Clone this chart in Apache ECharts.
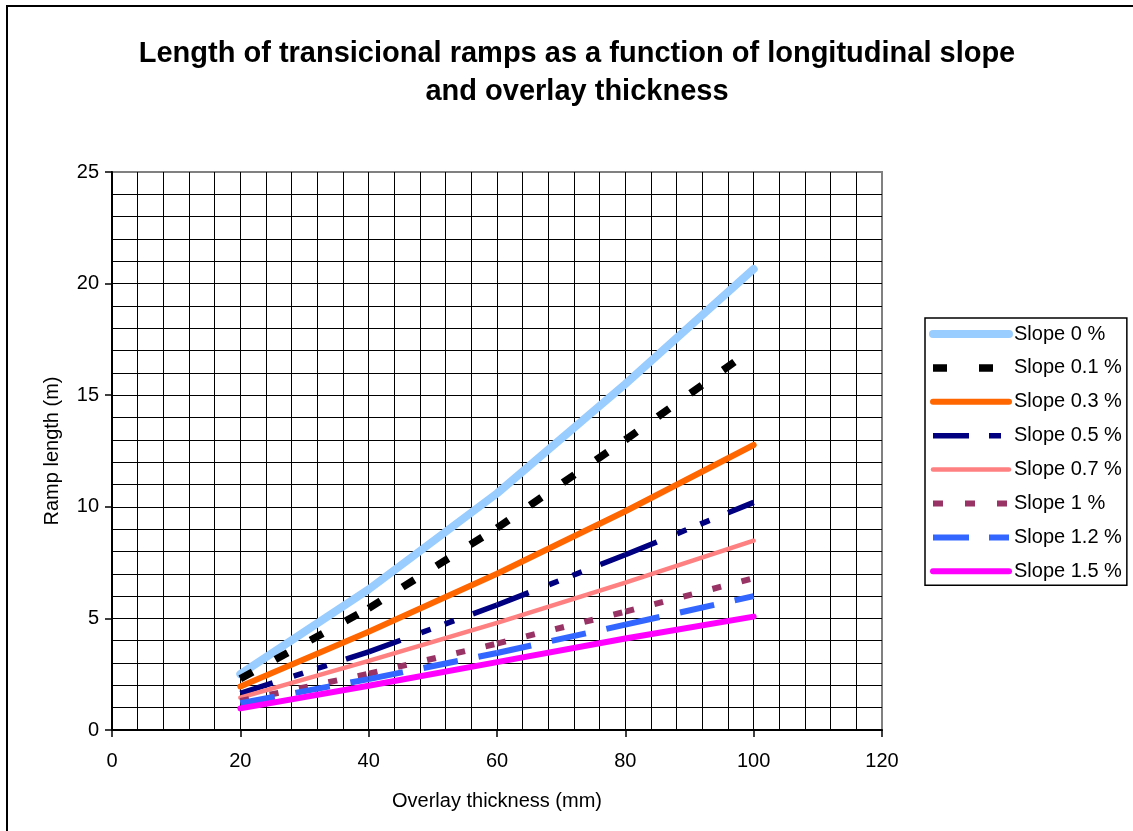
<!DOCTYPE html>
<html>
<head>
<meta charset="utf-8">
<script src="https://cdn.jsdelivr.net/npm/echarts@6/dist/echarts.min.js"></script>
<style>
html,body{margin:0;padding:0;background:#fff;}
#chart{width:1133px;height:831px;}
</style>
</head>
<body>
<div id="chart"></div>
<script>
// ---- data ----
const thickness = [20, 40, 60, 80, 100];
const slope0  = [2.5, 6.3, 10.6, 15.5, 20.65];
const slope01 = [2.3, 5.45, 9.05, 13.0, 17.1];
const slope03 = [1.95, 4.4, 7.0, 9.8, 12.77];
const slope05 = [1.64, 3.5, 5.6, 7.85, 10.2];
const slope07 = [1.45, 3.1, 4.8, 6.6, 8.48];
const slope10 = [1.3, 2.52, 3.87, 5.3, 6.8];
const slope12 = [1.2, 2.28, 3.45, 4.72, 6.0];
const slope15 = [0.97, 1.98, 3.04, 4.1, 5.08];
const seriesNames = ['Slope 0 %', 'Slope 0.1 %', 'Slope 0.3 %', 'Slope 0.5 %', 'Slope 0.7 %', 'Slope 1 %', 'Slope 1.2 %', 'Slope 1.5 %'];
const xTicks = [0, 20, 40, 60, 80, 100, 120];
const yTicks = [0, 5, 10, 15, 20, 25];

// ---- styles ----
const FONT = '"Liberation Sans", Arial, sans-serif';
const seriesValues = [slope0, slope01, slope03, slope05, slope07, slope10, slope12, slope15];
const styles = [
  {color: '#99CCFF', width: 8, type: 'solid', cap: 'round'},
  {color: '#000000', width: 7.5, type: [14, 26], cap: 'butt', legendType: [14, 32]},
  {color: '#FF6600', width: 6, type: 'solid', cap: 'round'},
  {color: '#000080', width: 5.5, type: [34, 22, 10, 15, 10, 20], cap: 'butt', legendType: [36, 20, 12, 100]},
  {color: '#FF8080', width: 4.5, type: 'solid', cap: 'round'},
  {color: '#993366', width: 6, type: [9, 21], cap: 'butt', legendType: [10, 22]},
  {color: '#3366FF', width: 6, type: [35, 21], cap: 'butt', legendType: [36, 20]},
  {color: '#FF00FF', width: 6, type: 'solid', cap: 'round'}
];

const series = [];
seriesNames.forEach((name, i) => {
  const vals = seriesValues[i];
  const st = styles[i];
  const pts = thickness.map((t, k) => [t, vals[k]]);
  const base = {
    type: 'line', name: name, symbol: 'none', silent: true, animation: false,
    lineStyle: {color: st.color, width: st.width, type: st.type, cap: st.cap, join: 'round'},
    itemStyle: {color: st.color},
    emphasis: {disabled: true}
  };
  if (st.type === 'solid') {
    series.push(Object.assign({}, base, {data: pts}));
  } else {
    // dash pattern restarts at every data point, as in the original
    for (let k = 0; k < pts.length - 1; k++) {
      series.push(Object.assign({}, base, {data: [pts[k], pts[k + 1]]}));
    }
  }
});

const legendData = seriesNames.map((name, i) => {
  const st = styles[i];
  return {
    name: name,
    lineStyle: {color: st.color, width: st.width, type: st.legendType || 'solid', cap: st.cap}
  };
});

const chart = echarts.init(document.getElementById('chart'), null, {renderer: 'canvas'});
chart.setOption({
  animation: false,
  backgroundColor: '#ffffff',
  title: {
    text: 'Length of transicional ramps as a function of longitudinal slope\nand overlay thickness',
    left: 572, top: 30, textAlign: 'center',
    textStyle: {fontFamily: FONT, fontSize: 29, fontWeight: 'bold', color: '#000', lineHeight: 38}
  },
  graphic: [{
    type: 'rect', silent: true, z: 100,
    shape: {x: 7, y: 6, width: 1140, height: 900},
    style: {fill: 'none', stroke: '#000', lineWidth: 2}
  }],
  legend: {
    orient: 'vertical', left: 925, top: 318,
    padding: [6, 5, 4, 4],
    itemWidth: 76, itemHeight: 14, itemGap: 13.9,
    borderColor: '#000', borderWidth: 1.5,
    selectedMode: false,
    itemStyle: {opacity: 0},
    textStyle: {fontFamily: FONT, fontSize: 20, color: '#000'},
    data: legendData
  },
  grid: {
    left: 112, top: 172, right: 251, bottom: 101,
    show: true, borderColor: '#808080', borderWidth: 2, backgroundColor: 'transparent'
  },
  xAxis: {
    type: 'value', min: xTicks[0], max: xTicks[xTicks.length - 1], interval: 20,
    name: 'Overlay thickness (mm)', nameLocation: 'middle', nameGap: 61,
    nameTextStyle: {fontFamily: FONT, fontSize: 20, color: '#000'},
    axisLine: {show: true, onZero: false, lineStyle: {color: '#000', width: 2}},
    axisTick: {show: true, length: 7, lineStyle: {color: '#000', width: 1.5}},
    axisLabel: {fontFamily: FONT, fontSize: 20, color: '#000', margin: 21},
    splitLine: {show: true, showMaxLine: false, showMinLine: false, lineStyle: {color: '#000', width: 1}},
    minorTick: {show: false, splitNumber: 5},
    minorSplitLine: {show: true, lineStyle: {color: '#000', width: 1}}
  },
  yAxis: {
    type: 'value', min: yTicks[0], max: yTicks[yTicks.length - 1], interval: 5,
    name: 'Ramp length (m)', nameLocation: 'middle', nameGap: 50,
    nameTextStyle: {fontFamily: FONT, fontSize: 20, color: '#000'},
    axisLine: {show: true, onZero: false, lineStyle: {color: '#000', width: 2}},
    axisTick: {show: true, length: 7, lineStyle: {color: '#000', width: 1.5}},
    axisLabel: {fontFamily: FONT, fontSize: 20, color: '#000', margin: 13},
    splitLine: {show: true, showMaxLine: false, showMinLine: false, lineStyle: {color: '#000', width: 1}},
    minorTick: {show: false, splitNumber: 5},
    minorSplitLine: {show: true, lineStyle: {color: '#000', width: 1}}
  },
  series: series
});
</script>
</body>
</html>
